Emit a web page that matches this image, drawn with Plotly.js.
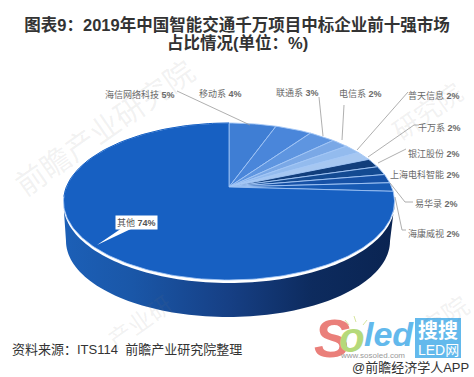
<!DOCTYPE html>
<html><head><meta charset="utf-8">
<script src="https://cdn.plot.ly/plotly-3.0.1.min.js"></script>
<style>html,body{margin:0;padding:0;background:#fff}#c{width:474px;height:377px}</style>
</head><body><div id="c"></div>
<script>
const categories=["海信网络科技","移动系","联通系","电信系","普天信息","千万系","银江股份","上海电科智能","易华录","海康威视","其他"];
const values=[5,4,3,2,2,2,2,2,2,2,74];
const colors=["#3f7ed4","#4a86da","#5e95e0","#7aa8e6","#93bbee","#a6c7f1","#113e7c","#134a92","#1651a6","#175ab4","#1760c2"];
const labelX=[140,220,297,360,434,439,434,425,436,434,136];
const labelY=[94,93,93,93,95,128,153,174,203,233,222];
const COLON="\uFF1A";
const titleLine1="图表9"+COLON+"2019年中国智能交通千万项目中标企业前十强市场";
const titleLine2="占比情况(单位"+COLON+"%)";
const sourceText="资料来源"+COLON+"ITS114  前瞻产业研究院整理";

const apex={x:229,y:187},top_={x:229,y:201.5,rx:165.5,ry:78.5},bot={x:228,y:241,rx:162,ry:76},K=0.42;
function rim(th){
  const dx=Math.sin(th),dy=-K*Math.cos(th);
  const ax=(apex.x-top_.x)/top_.rx,ay=(apex.y-top_.y)/top_.ry,bx=dx/top_.rx,by=dy/top_.ry;
  const a=bx*bx+by*by,b=2*(ax*bx+ay*by),c=ax*ax+ay*ay-1;
  const t=(-b+Math.sqrt(b*b-4*a*c))/(2*a);
  return [apex.x+t*dx,apex.y+t*dy];
}
const total=values.reduce((a,b)=>a+b,0);
const traces=[];
// side wall
(function(){
  const xs=[],ys=[];
  for(let i=0;i<=90;i++){const a=Math.PI*i/90;xs.push(top_.x-top_.rx*Math.cos(a));ys.push(top_.y+top_.ry*Math.sin(a)+3);}
  for(let i=90;i>=0;i--){const a=Math.PI*i/90;xs.push(bot.x-bot.rx*Math.cos(a));ys.push(bot.y+bot.ry*Math.sin(a));}
  traces.push({type:'scatter',mode:'none',x:xs,y:ys,fill:'toself',hoverinfo:'skip',
    fillgradient:{type:'horizontal',start:66,stop:394,colorscale:[[0,'#1c5fb6'],[0.2,'#1a57a8'],[0.5,'#163f84'],[0.75,'#0d2b5e'],[1,'#0a2452']]}});
})();
// top slices
let cum=0;
values.forEach((v,i)=>{
  const t0=cum/total*2*Math.PI;cum+=v;const t1=cum/total*2*Math.PI;
  const n=Math.max(4,Math.round(v*3));
  const xs=[apex.x],ys=[apex.y];
  for(let j=0;j<=n;j++){const p=rim(t0+(t1-t0)*j/n);xs.push(p[0]);ys.push(p[1]);}
  xs.push(apex.x);ys.push(apex.y);
  traces.push({type:'scatter',mode:'lines',x:xs,y:ys,fill:'toself',fillcolor:colors[i],name:categories[i],
    line:{color:'#a3c6f6',width:i==10?0.8:0.9},hoverinfo:'skip'});
});
// mask the pale outline on the upper rim of the big slice
(function(){
  const xs=[],ys=[];
  for(let i=0;i<=60;i++){const a=Math.PI*(1.02+0.48*i/60);xs.push(top_.x+top_.rx*Math.cos(a));ys.push(top_.y+top_.ry*Math.sin(a));}
  traces.push({type:'scatter',mode:'lines',x:xs,y:ys,line:{color:'#1760c2',width:1},hoverinfo:'skip'});
})();

const F="'Liberation Sans','Noto Sans CJK SC',sans-serif";
const ann=[];
// watermarks
[[105,128,30,'前瞻产业研究院'],[428,112,26,'研究院'],[140,322,24,'产业研'],[445,318,26,'究院']].forEach(w=>{
  ann.push({x:w[0],y:w[1],xref:'x',yref:'y',text:w[3],showarrow:false,textangle:-35,font:{family:F,size:w[2],color:'rgba(120,120,120,0.1)'}});
});
categories.forEach((c,i)=>{
  const a={x:labelX[i],y:labelY[i],xref:'x',yref:'y',text:c+' <b>'+values[i]+'%</b>',showarrow:false,
    font:{family:F,size:9,color:i==10?'#555':'#6a6a6a'}};
  if(i==10){a.bgcolor='#fff';a.borderpad=1;}
  ann.push(a);
});
ann.push({x:237,y:42,xref:'x',yref:'y',text:'<b>'+titleLine2+'</b>',showarrow:false,font:{family:F,size:16.5,color:'#333'}});
ann.push({x:10,y:349,xref:'x',yref:'y',xanchor:'left',text:sourceText,showarrow:false,font:{family:F,size:13,color:'#333'}});
ann.push({x:471,y:367,xref:'x',yref:'y',xanchor:'right',text:'@前瞻经济学人APP',showarrow:false,font:{family:F,size:13,color:'#333'}});
// logo
ann.push({x:332,y:338,xref:'x',yref:'y',text:'<b><i>S</i></b>',showarrow:false,font:{family:'Liberation Sans',size:54,color:'#ea7f7a'}});
ann.push({x:352,y:337,xref:'x',yref:'y',text:'<b><i>o</i></b>',showarrow:false,font:{family:'Liberation Sans',size:42,color:'#b5d97a'}});
ann.push({x:389,y:334,xref:'x',yref:'y',text:'<b><i>led</i></b>',showarrow:false,font:{family:'Liberation Sans',size:34,color:'#63b9ec'}});
ann.push({x:438,y:331,xref:'x',yref:'y',text:'<b>搜搜</b>',showarrow:false,font:{family:F,size:20,color:'#fff'}});
ann.push({x:438,y:350,xref:'x',yref:'y',text:'LED网',showarrow:false,font:{family:F,size:14,color:'#fff'}});
ann.push({x:372,y:355,xref:'x',yref:'y',text:'www.sosoled.com',showarrow:false,font:{family:F,size:8,color:'#999'}});

const leader=[[177,91,250,125],[319,97,323,136],[344,105,342,140],[408,92,357,150],[419,125,414,125],[414,125,368,157],[406,149,378,163],[413,202,405,202],[405,202,390,183],[406,230,402,230],[402,230,395,197]];
const shapes=leader.map(l=>({type:'line',xref:'x',yref:'y',x0:l[0],y0:l[1],x1:l[2],y1:l[3],line:{color:'#9a9a9a',width:0.8},layer:'above'}));
shapes.push({type:'path',xref:'x',yref:'y',path:'M122,228 L97,245 L133,228 Z',fillcolor:'#fff',line:{width:0},layer:'above'});
shapes.push({type:'rect',xref:'x',yref:'y',x0:415,y0:318,x1:461,y1:358,fillcolor:'#63b9ec',line:{width:0},layer:'above'});
[[356,322,354,316],[363,325,367,320],[349,325,345,320],[367,331,372,329]].forEach(r=>shapes.push({type:'line',xref:'x',yref:'y',x0:r[0],y0:r[1],x1:r[2],y1:r[3],line:{color:'#d8e6a0',width:1},layer:'above'}));

Plotly.newPlot('c',traces,{
  width:474,height:377,margin:{l:0,r:0,t:0,b:0},paper_bgcolor:'#fff',plot_bgcolor:'#fff',showlegend:false,
  title:{text:'<b>'+titleLine1+'</b>',font:{family:F,size:16.5,color:'#333'},x:0.5,xanchor:'center',y:0.934,yanchor:'middle'},
  xaxis:{range:[0,474],visible:false,fixedrange:true},
  yaxis:{range:[377,0],visible:false,fixedrange:true},
  annotations:ann,shapes:shapes
},{displayModeBar:false,staticPlot:true});
</script></body></html>
